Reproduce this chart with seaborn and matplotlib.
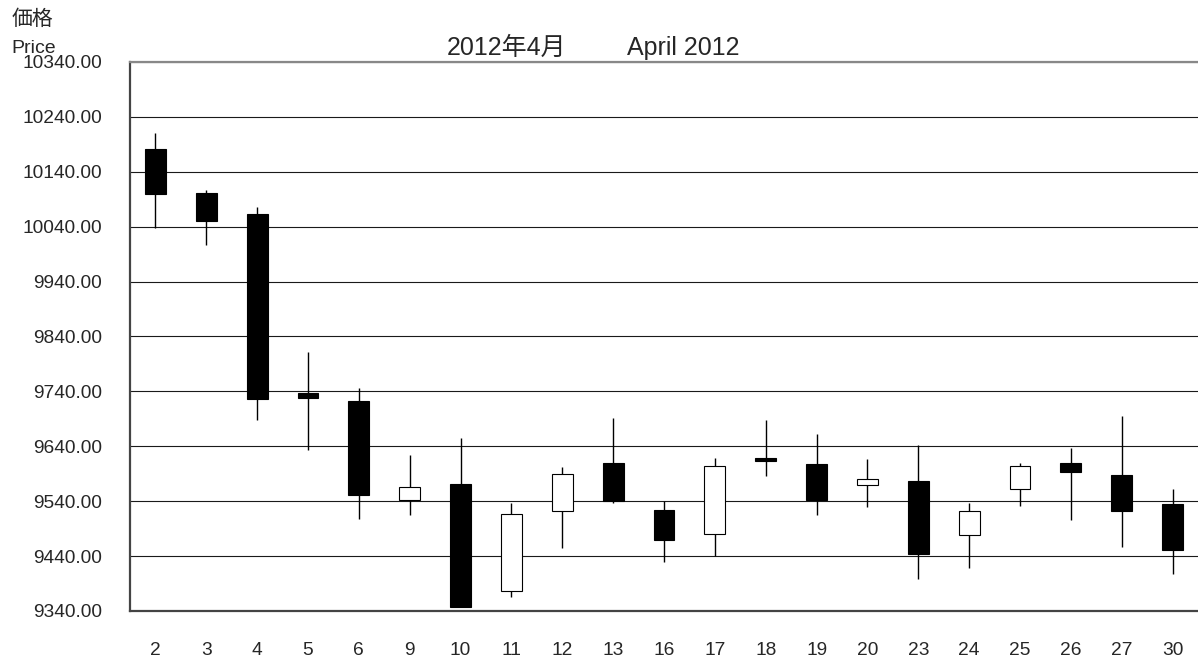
"""Daily candlestick chart, April 2012."""

import matplotlib

matplotlib.use("Agg")

import matplotlib.pyplot as plt  # noqa: E402
import numpy as np  # noqa: E402
import pandas as pd  # noqa: E402
import seaborn as sns  # noqa: E402
from matplotlib import font_manager  # noqa: E402

# ------------------------------------------------------------------
#  Data
# ------------------------------------------------------------------

days = ["2", "3", "4", "5", "6", "9", "10", "11", "12", "13", "16",
        "17", "18", "19", "20", "23", "24", "25", "26", "27", "30"]
opens = [10181, 10101, 10064, 9737, 9723, 9543, 9571, 9376, 9523, 9610, 9524,
         9480, 9619, 9608, 9569, 9577, 9479, 9562, 9610, 9587, 9535]
highs = [10211, 10106, 10075, 9811, 9747, 9624, 9656, 9536, 9602, 9691, 9540,
         9619, 9687, 9662, 9616, 9642, 9536, 9609, 9637, 9695, 9563]
lows = [10037, 10007, 9688, 9633, 9508, 9515, 9347, 9365, 9454, 9537, 9429,
        9440, 9585, 9514, 9529, 9398, 9419, 9531, 9506, 9457, 9407]
closes = [10100, 10051, 9726, 9728, 9552, 9565, 9348, 9516, 9589, 9540, 9470,
          9605, 9613, 9543, 9580, 9444, 9523, 9604, 9594, 9523, 9452]
price_ticks = np.arange(9340, 10341, 100)

title_jp = "2012年4月"
title_en = "April 2012"

# ------------------------------------------------------------------
#  Style
# ------------------------------------------------------------------

sns.set_style("white")
installed = {f.name for f in font_manager.fontManager.ttflist}
narrow = "Liberation Sans Narrow" if "Liberation Sans Narrow" in installed else "Liberation Sans"
plt.rcParams["font.family"] = [narrow, "Noto Sans CJK JP", "DejaVu Sans"]
wide = ["Liberation Sans", "Noto Sans CJK JP", "DejaVu Sans"]
tick_size = 16.3 if narrow == "Liberation Sans Narrow" else 13.8

df = pd.DataFrame({"day": days, "open": opens, "high": highs, "low": lows, "close": closes})
df["pos"] = np.arange(len(df))
df["lo"] = df[["open", "close"]].min(axis=1)
df["hi"] = df[["open", "close"]].max(axis=1)
df["fill"] = np.where(df["close"] >= df["open"], "white", "black")

W, H = 1198, 659
fig = plt.figure(figsize=(W / 100, H / 100), dpi=100)
ax = fig.add_axes([130 / W, 1 - 611 / H, 1068 / W, 549 / H])

# wicks, then bodies on top
ax.vlines(df["pos"], df["low"], df["high"], color="black", lw=1.0, zorder=2)
ax.bar(df["pos"], df["hi"] - df["lo"], bottom=df["lo"], width=0.41,
       color=df["fill"], edgecolor="black", linewidth=0.8, zorder=3)

ax.set_xlim(-0.5, len(df) - 0.5)
ax.set_ylim(price_ticks[0], price_ticks[-1])

ax.set_yticks(price_ticks)
ax.set_yticklabels([f"{v:.2f}" for v in price_ticks], fontsize=tick_size)
ax.yaxis.grid(True, color="#1a1a1a", lw=0.8)
ax.set_axisbelow(True)

ax.set_xticks(df["pos"])
ax.set_xticklabels(df["day"], fontsize=tick_size)
ax.set_xticks(df["pos"][:-1] + 0.5, minor=True)
ax.tick_params(axis="y", length=0, pad=20)
ax.tick_params(axis="x", which="major", length=0, pad=22)
ax.tick_params(axis="x", which="minor", direction="in", length=4.5,
               width=0.8, color="#555555")

sns.despine(ax=ax, right=True, top=False)
ax.spines["top"].set_color("#888888")
ax.spines["top"].set_linewidth(1.6)
for side in ("left", "bottom"):
    ax.spines[side].set_color("#444444")
    ax.spines[side].set_linewidth(1.6)

# titles and axis caption
fig.text(447 / W, 1 - 55 / H, title_jp, ha="left", va="baseline",
         fontsize=18, family=wide)
fig.text(627 / W, 1 - 55 / H, title_en, ha="left", va="baseline",
         fontsize=18, family=wide)
fig.text(12 / W, 1 - 25 / H, "価格", ha="left", va="baseline",
         fontsize=15, family=["Noto Sans CJK JP", "DejaVu Sans"])
fig.text(11 / W, 1 - 53 / H, "Price", ha="left", va="baseline",
         fontsize=14, family=wide)

fig.savefig("out.png", dpi=100)
plt.close(fig)
